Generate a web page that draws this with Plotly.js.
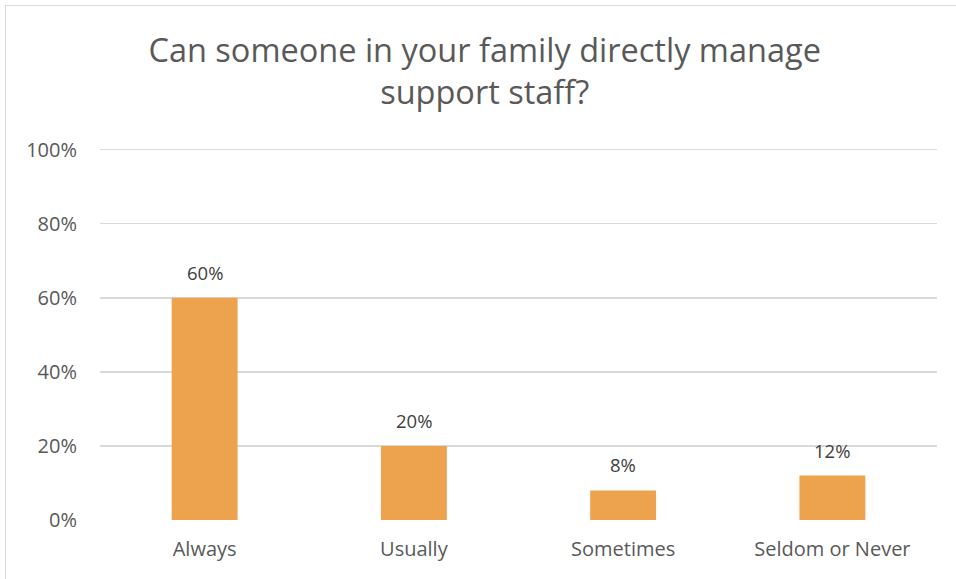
<!DOCTYPE html>
<html><head><meta charset="utf-8">
<script src="https://cdn.plot.ly/plotly-3.0.1.min.js"></script>
<style>
html,body{margin:0;padding:0;background:#fff;overflow:hidden;}
#chart{position:absolute;left:0;top:0;width:956px;height:579px;}
#frame{position:absolute;left:5px;top:5px;width:1000px;height:1000px;border:1.5px solid #d9d9d9;pointer-events:none;}
</style></head>
<body>
<div id="chart"></div>
<div id="frame"></div>
<script>
const categories = ["Always", "Usually", "Sometimes", "Seldom or Never"];
const values = [0.60, 0.20, 0.08, 0.12];
const valueLabels = ["60%", "20%", "8%", "12%"];
const yTicks = [0, 0.2, 0.4, 0.6, 0.8, 1.0];
const yTickLabels = ["0%", "20%", "40%", "60%", "80%", "100%"];
const titleText = "Can someone in your family directly manage<br>support staff?";

const fontFam = "'Open Sans', sans-serif";
const annotations = categories.map((c, i) => ({
  x: c, y: values[i], xref: "x", yref: "y", text: valueLabels[i],
  showarrow: false, yanchor: "bottom", yshift: 11,
  font: {family: fontFam, size: 18.5, color: "#404040"}
}));
Plotly.newPlot("chart", [{
  type: "bar",
  x: categories,
  y: values,
  marker: {color: "#EDA24D"},
  hoverinfo: "none"
}], {
  width: 956, height: 579,
  margin: {l: 100, r: 19, t: 146, b: 59},
  paper_bgcolor: "rgba(0,0,0,0)", plot_bgcolor: "#fff",
  bargap: 0.685,
  annotations: annotations,
  title: {text: titleText, font: {family: fontFam, size: 32.5, color: "#595959", lineposition: "none"}, x: 0.507, xanchor: "center", xref: "container", y: 0.893, yanchor: "top", yref: "container"},
  xaxis: {showgrid: false, zeroline: false, showline: false, ticks: "", tickfont: {family: fontFam, size: 20, color: "#595959"}, ticklabelstandoff: 15},
  yaxis: {range: [0, 1.01], tickvals: yTicks, ticktext: yTickLabels, showgrid: true, gridcolor: "#d9d9d9", gridwidth: 1.4, zeroline: false, showline: false, ticks: "", tickfont: {family: fontFam, size: 20, color: "#595959"}, ticklabelstandoff: 22},
  showlegend: false
}, {displayModeBar: false, staticPlot: true});
</script>
</body></html>
